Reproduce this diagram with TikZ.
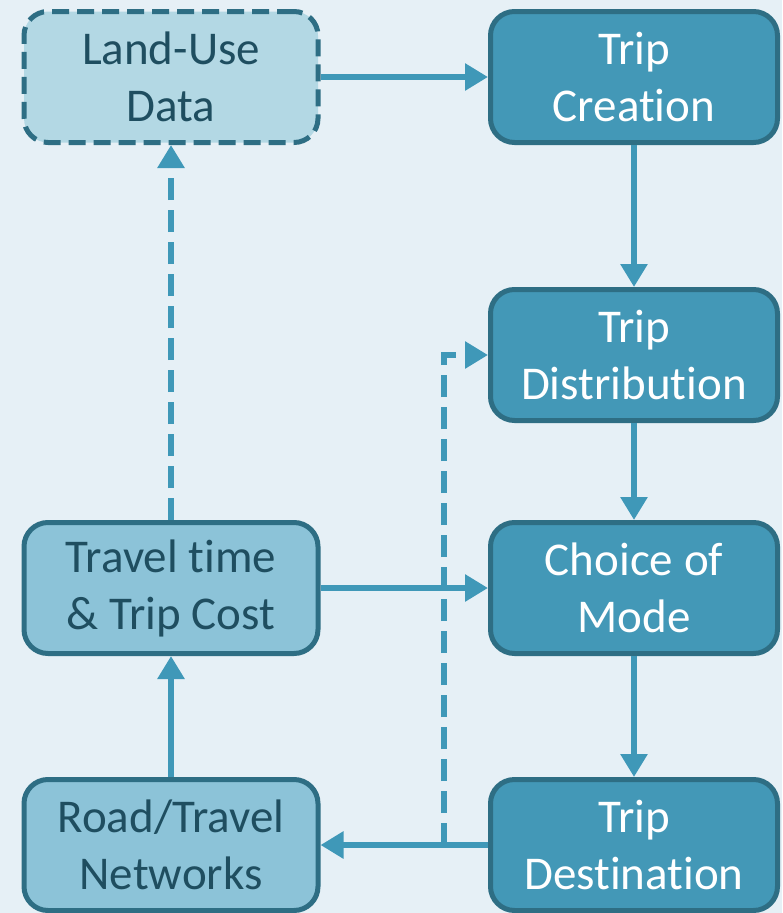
\documentclass[tikz,border=0pt]{standalone}
\usepackage{fontspec}
\setmainfont{Carlito}[Ligatures={NoCommon}]
\usetikzlibrary{arrows.meta}
\definecolor{bgc}{HTML}{E6F0F6}
\definecolor{edgec}{HTML}{2E6E84}
\definecolor{darkfill}{HTML}{4398B7}
\definecolor{lightfill}{HTML}{8CC3D8}
\definecolor{palefill}{HTML}{B3D8E4}
\definecolor{arrowc}{HTML}{3F98B8}
\definecolor{darktext}{HTML}{1F4E60}
\tikzset{
  boxbase/.style={draw=edgec, line width=5pt, rounded corners=24pt, align=center,
    font=\fontsize{47}{57}\selectfont, inner sep=0pt},
  leftbox/.style={boxbase, fill=lightfill, text=darktext, minimum width=294pt, minimum height=131pt},
  palebox/.style={boxbase, fill=palefill, text=darktext, minimum width=294pt, minimum height=131pt,
    dash pattern=on 17pt off 8pt},
  rightbox/.style={boxbase, fill=darkfill, text=white, minimum width=287pt, minimum height=131pt},
  conn/.style={draw=arrowc, line width=6pt, -{Triangle[length=23pt,width=26pt]}},
  dconn/.style={conn, dash pattern=on 22pt off 10pt},
}
\begin{document}
\begin{tikzpicture}[x=1pt,y=-1pt]
\fill[bgc] (0,0) rectangle (782,913);
\useasboundingbox (0,0) rectangle (782,913);
\node[palebox] (land) at (171,77) {Land-Use\\Data};
\node[rightbox] (create) at (634,77) {Trip\\Creation};
\node[rightbox] (dist) at (634,355) {Trip\\Distribution};
\node[leftbox] (travel) at (171,588) {Travel time\\\& Trip Cost};
\node[rightbox] (mode) at (634,588) {Choice of\\Mode};
\node[leftbox] (road) at (171,845) {Road/Travel\\Networks};
\node[rightbox] (dest) at (634,845) {Trip\\Destination};
\coordinate (split) at (444,845);
\draw[conn] (land) -- (create);
\draw[conn] (create) -- (dist);
\draw[conn] (dist) -- (mode);
\draw[conn] (mode) -- (dest);
\draw[conn] (travel) -- (mode);
\draw[conn] (road) -- (travel);
\draw[dconn] (travel) -- (land);
\draw[conn] (dest) -- (road);
\draw[dconn] (split) |- (dist.west);
\end{tikzpicture}
\end{document}
